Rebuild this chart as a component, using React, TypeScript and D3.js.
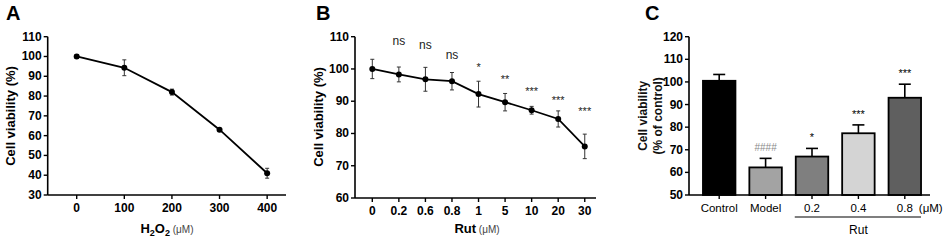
import React from "react";
import * as d3 from "d3";

// Panel A
const aDoses = ["0", "100", "200", "300", "400"];
const aMeans = [100, 94.3, 82, 63, 41];
const aErrs = [1, 4, 1.5, 0.6, 2.5];
const aYTicks = [30, 40, 50, 60, 70, 80, 90, 100, 110];

// Panel B
const bDoses = ["0", "0.2", "0.6", "0.8", "1", "5", "10", "20", "30"];
const bMeans = [100, 98.3, 96.8, 96.2, 92.2, 89.7, 87.2, 84.5, 76];
const bErrs = [3, 2.3, 3.7, 2.7, 4, 2.7, 1.2, 2.5, 3.8];
const bSig = ["", "ns", "ns", "ns", "*", "**", "***", "***", "***"];
const bSigY = [0, 107.5, 106.2, 103, 99.5, 95.8, 91.8, 89, 85.6];
const bYTicks = [60, 70, 80, 90, 100, 110];

// Panel C
const cGroups = ["Control", "Model", "0.2", "0.4", "0.8"];
const cMeans = [100.5, 62.2, 67, 77.3, 93];
const cErrs = [2.8, 4, 3.6, 3.7, 6];
const cColors = ["#000000", "#a3a3a3", "#7f7f7f", "#d4d4d4", "#5f5f5f"];
const cSig = ["", "####", "*", "***", "***"];
const cSigColor = ["#000", "#8a8a8a", "#000", "#000", "#000"];
const cYTicks = [50, 60, 70, 80, 90, 100, 110, 120];

const FONT = "Liberation Sans, Arial, sans-serif";

function LinePanel(props: {
  x0: number; x1: number; top: number; bottom: number;
  doses: string[]; means: number[]; errs: number[]; yTicks: number[];
  xPad: number; sig?: string[]; sigY?: number[];
}) {
  const { x0, x1, top, bottom, doses, means, errs, yTicks, xPad, sig, sigY } = props;
  const y = d3.scaleLinear().domain([yTicks[0], yTicks[yTicks.length - 1]]).range([bottom, top]);
  const x = d3.scalePoint().domain(doses).range([x0 + xPad, x1 - xPad * 0.65]);
  const line = d3.line<number>().x((_, i) => x(doses[i])!).y((d) => y(d));
  return (
    <g fontFamily={FONT}>
      <line x1={x0} x2={x0} y1={top} y2={bottom} stroke="#000" strokeWidth={1.6} />
      <line x1={x0} x2={x1} y1={bottom} y2={bottom} stroke="#000" strokeWidth={1.6} />
      {yTicks.map((t) => (
        <g key={t}>
          <line x1={x0 - 4} x2={x0} y1={y(t)} y2={y(t)} stroke="#000" strokeWidth={1.4} />
          <text x={x0 - 6} y={y(t) + 4} textAnchor="end" fontSize={12} fontWeight="bold">{t}</text>
        </g>
      ))}
      {doses.map((d) => (
        <g key={d}>
          <line x1={x(d)} x2={x(d)} y1={bottom} y2={bottom + 4} stroke="#000" strokeWidth={1.4} />
          <text x={x(d)} y={bottom + 17} textAnchor="middle" fontSize={12} fontWeight="bold">{d}</text>
        </g>
      ))}
      <path d={line(means)!} fill="none" stroke="#000" strokeWidth={1.8} />
      {means.map((m, i) => {
        const cx = x(doses[i])!;
        return (
          <g key={i}>
            <line x1={cx} x2={cx} y1={y(m - errs[i])} y2={y(m + errs[i])} stroke="#333" strokeWidth={1} />
            <line x1={cx - 2} x2={cx + 2} y1={y(m - errs[i])} y2={y(m - errs[i])} stroke="#333" strokeWidth={1} />
            <line x1={cx - 2} x2={cx + 2} y1={y(m + errs[i])} y2={y(m + errs[i])} stroke="#333" strokeWidth={1} />
            <circle cx={cx} cy={y(m)} r={3} fill="#000" />
            {sig && sigY && sig[i] ? (
              <text x={cx} y={y(sigY[i])} textAnchor="middle" fontSize={sig[i] === "ns" ? 12 : 11} fill="#222">{sig[i]}</text>
            ) : null}
          </g>
        );
      })}
    </g>
  );
}

function BarPanel() {
  const x0 = 689, x1 = 930, top = 36.7, bottom = 195;
  const y = d3.scaleLinear().domain([50, 120]).range([bottom, top]);
  const x = d3.scaleBand().domain(cGroups).range([x0 + 7, x1 - 2]).paddingInner(0.3).paddingOuter(0.15);
  const bw = x.bandwidth();
  return (
    <g fontFamily={FONT}>
      {cMeans.map((m, i) => {
        const bx = x(cGroups[i])!;
        const cx = bx + bw / 2;
        const et = y(m + cErrs[i]);
        return (
          <g key={i}>
            <line x1={cx} x2={cx} y1={y(m)} y2={et} stroke="#000" strokeWidth={1.6} />
            <line x1={cx - 6} x2={cx + 6} y1={et} y2={et} stroke="#000" strokeWidth={1.6} />
            <rect x={bx} y={y(m)} width={bw} height={bottom - y(m)} fill={cColors[i]} stroke="#000" strokeWidth={1.8} />
            {cSig[i] ? (
              <text x={cx} y={et - 7} textAnchor="middle" fontSize={cSig[i] === "####" ? 10 : 11} fill={cSigColor[i]}>{cSig[i]}</text>
            ) : null}
          </g>
        );
      })}
      <line x1={x0} x2={x0} y1={top} y2={bottom} stroke="#000" strokeWidth={1.6} />
      <line x1={x0} x2={x1} y1={bottom} y2={bottom} stroke="#000" strokeWidth={1.6} />
      {cYTicks.map((t) => (
        <g key={t}>
          <line x1={x0 - 4} x2={x0} y1={y(t)} y2={y(t)} stroke="#000" strokeWidth={1.4} />
          <text x={x0 - 6} y={y(t) + 4} textAnchor="end" fontSize={12} fontWeight="bold">{t}</text>
        </g>
      ))}
      {cGroups.map((g, i) => {
        const cx = x(g)! + bw / 2;
        return (
          <g key={g}>
            <line x1={cx} x2={cx} y1={bottom} y2={bottom + 4} stroke="#000" strokeWidth={1.4} />
            <text x={cx} y={bottom + 17} textAnchor="middle" fontSize={11.5}>{g}</text>
            {i === cGroups.length - 1 ? (
              <text x={cx + 14} y={bottom + 17} textAnchor="start" fontSize={11.5}>(μM)</text>
            ) : null}
          </g>
        );
      })}
      <line x1={x("0.2")! - 1} x2={x("0.8")! + bw} y1={217} y2={217} stroke="#000" strokeWidth={1.2} />
      <text x={(x("0.2")! + x("0.8")! + bw) / 2} y={234} textAnchor="middle" fontSize={12}>Rut</text>
      <text transform={`translate(647,${(top + bottom) / 2}) rotate(-90)`} textAnchor="middle" fontSize={12} fontWeight="bold" fill="#111">Cell viability</text>
      <text transform={`translate(662,${(top + bottom) / 2}) rotate(-90)`} textAnchor="middle" fontSize={12} fontWeight="bold" fill="#111">(% of control)</text>
      <text x={645} y={20} fontSize={20} fontWeight="bold">C</text>
    </g>
  );
}

export default function App() {
  return (
    <svg width={948} height={243} style={{ display: "block", position: "absolute", left: 0, top: 0, background: "#fff" }}>
      <rect width={948} height={243} fill="#fff" />
      <g fontFamily={FONT}>
        <text x={6} y={20} fontSize={20} fontWeight="bold">A</text>
        <text transform="translate(15,116) rotate(-90)" textAnchor="middle" fontSize={13} fontWeight="bold">Cell viability (%)</text>
        <text x={167} y={233} textAnchor="middle" fontSize={13} fontWeight="bold">
          H<tspan fontSize={9} dy={3}>2</tspan><tspan dy={-3}>O</tspan><tspan fontSize={9} dy={3}>2</tspan>
          <tspan dy={-3} fontSize={10} fontWeight="normal" fill="#444"> (μM)</tspan>
        </text>
        <text x={316} y={20} fontSize={20} fontWeight="bold">B</text>
        <text transform="translate(323,117) rotate(-90)" textAnchor="middle" fontSize={13} fontWeight="bold">Cell viability (%)</text>
        <text x={477} y={233} textAnchor="middle" fontSize={13} fontWeight="bold">
          Rut<tspan fontSize={10} fontWeight="normal" fill="#444"> (μM)</tspan>
        </text>
      </g>
      <LinePanel x0={47.7} x1={286} top={36.7} bottom={195} doses={aDoses} means={aMeans} errs={aErrs} yTicks={aYTicks} xPad={29} />
      <LinePanel x0={355} x1={596} top={36.7} bottom={198} doses={bDoses} means={bMeans} errs={bErrs} yTicks={bYTicks} xPad={17.3} sig={bSig} sigY={bSigY} />
      <BarPanel />
    </svg>
  );
}
